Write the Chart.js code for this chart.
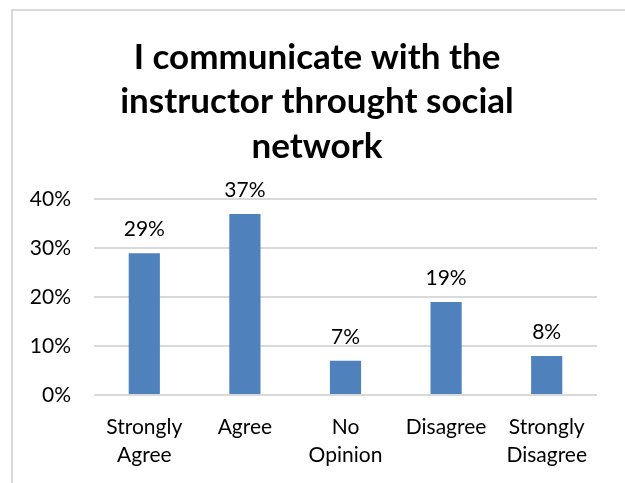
<!DOCTYPE html>
<html>
<head>
<meta charset="utf-8">
<script src="https://cdn.jsdelivr.net/npm/chart.js@4.4.1/dist/chart.umd.min.js"></script>
<style>
  html, body { margin: 0; padding: 0; background: #fff; overflow: hidden; }
  #wrap { position: relative; width: 625px; height: 483px; overflow: hidden; }
  #frame { position: absolute; left: 11px; top: 9px; width: 700px; height: 600px; border: 2px solid #d9d9d9; box-sizing: border-box; }
  canvas { position: absolute; left: 0; top: 0; }
</style>
</head>
<body>
<div id="wrap">
  <div id="frame"></div>
  <canvas id="c" width="634" height="483"></canvas>
</div>
<script>
const titleLines = ["I communicate with the", "instructor throught social", "network"];
const categories = [["Strongly", "Agree"], "Agree", ["No", "Opinion"], "Disagree", ["Strongly", "Disagree"]];
const values = [0.29, 0.37, 0.07, 0.19, 0.08];
const yTicks = [0, 0.1, 0.2, 0.3, 0.4];

const FONT = "Lato, 'Open Sans', sans-serif";

const labelPlugin = {
  id: 'barLabels',
  afterDatasetsDraw(chart) {
    const ctx = chart.ctx;
    const meta = chart.getDatasetMeta(0);
    ctx.save();
    ctx.font = "21px " + FONT;
    ctx.fillStyle = "#000";
    ctx.textAlign = "center";
    ctx.textBaseline = "middle";
    meta.data.forEach((bar, i) => {
      ctx.fillText(Math.round(values[i] * 100) + "%", bar.x, bar.y - 24);
    });
    ctx.restore();
  }
};

new Chart(document.getElementById('c'), {
  type: 'bar',
  data: {
    labels: categories,
    datasets: [{
      data: values,
      backgroundColor: '#4f81bd',
      borderWidth: 0,
      categoryPercentage: 1.0,
      barPercentage: 0.31,
      yAxisID: 'y'
    }]
  },
  options: {
    responsive: false,
    animation: false,
    layout: { padding: 0 },
    plugins: {
      legend: { display: false },
      tooltip: { enabled: false },
      title: {
        display: true,
        text: titleLines,
        color: '#000',
        font: { family: FONT, size: 35, weight: 'bold', lineHeight: 1.28 },
        padding: { top: 35, bottom: 30 }
      }
    },
    scales: {
      y: {
        min: 0, max: 0.4,
        afterFit(scale) { scale.width = 94; },
        afterBuildTicks(scale) { scale.ticks = yTicks.map(v => ({ value: v })); },
        ticks: {
          padding: 23,
          color: '#000',
          font: { family: FONT, size: 21 },
          callback: v => Math.round(v * 100) + '%'
        },
        grid: { color: '#d9d9d9', lineWidth: 2, drawTicks: false },
        border: { display: false }
      },
      yRight: {
        position: 'right',
        display: true,
        afterFit(scale) { scale.width = 37; },
        ticks: { display: false },
        grid: { display: false, drawTicks: false },
        border: { display: false }
      },
      x: {
        afterFit(scale) { scale.height = 88; },
        ticks: {
          padding: 18,
          color: '#000',
          maxRotation: 0,
          autoSkip: false,
          font: { family: FONT, size: 21, lineHeight: 1.35 }
        },
        grid: { display: false, drawTicks: false },
        border: { display: false }
      }
    }
  },
  plugins: [labelPlugin]
});
</script>
</body>
</html>
